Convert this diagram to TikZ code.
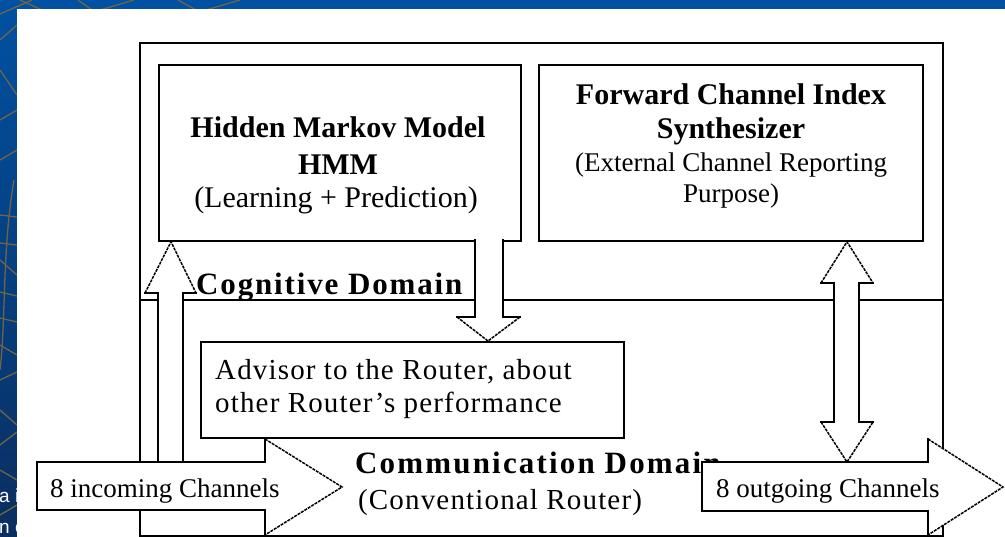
\documentclass[tikz,border=0pt]{standalone}
\usepackage{fontspec}
\setmainfont{Liberation Serif}
\newfontfamily\fragfont{Liberation Sans}
\newfontfamily\wideA[LetterSpace=6]{Liberation Serif}
\newfontfamily\wideB[LetterSpace=4]{Liberation Serif}
\newfontfamily\wideC[LetterSpace=7]{Liberation Serif}
\definecolor{slideblue}{RGB}{0,81,162}
\definecolor{slidedark}{RGB}{10,46,96}
\definecolor{netline}{RGB}{112,100,72}
\tikzset{
  box/.style={draw=black, line width=1.8pt, fill=white, inner sep=0pt, minimum width=#1},
  box/.default=10pt,
  frameline/.style={draw=black, line width=2pt},
  blockline/.style={draw=black, line width=1.6pt, line cap=rect},
  diagline/.style={draw=black, line width=1.5pt, dash pattern=on 3pt off 1pt},
  bigbold/.style={font=\bfseries\fontsize{30}{36}\selectfont, inner sep=0pt},
  body/.style={font=\fontsize{30}{36}\selectfont, inner sep=0pt},
  small/.style={font=\fontsize{27}{33}\selectfont, inner sep=0pt},
}
\begin{document}
\begin{tikzpicture}[x=1pt,y=-1pt]
\useasboundingbox (0,0) rectangle (1005,537);
% slide background
\shade[top color=slideblue, bottom color=slidedark] (0,0) rectangle (1005,537);
\fill[slideblue] (0,0) rectangle (1005,9);
\begin{scope}[netline, line width=1.3pt]
  \draw (0,14) -- (32,0);
  \draw (20,0) -- (42,10);
  \draw (78,0) -- (92,10);
  \draw (100,10) -- (134,0);
  \draw (178,0) -- (196,10);
  \draw (206,10) -- (240,0);
  \draw (0,40) -- (17,25);
  \draw (0,70) -- (17,95);
  \draw (0,120) -- (17,110);
  \draw (0,160) -- (17,150);
  \draw (0,215) -- (17,217);
  \draw (0,243) -- (17,245);
  \draw (0,260) -- (17,275);
  \draw (0,292) -- (17,296);
  \draw (0,318) -- (17,322);
  \draw (0,345) -- (17,355);
  \draw (0,380) -- (17,372);
  \draw (0,410) -- (17,425);
  \draw (0,445) -- (17,432);
  \draw (0,470) -- (17,480);
  \draw (0,515) -- (17,505);
  \draw (14,180) .. controls (2,250) and (6,320) .. (0,370);
\end{scope}
\node[anchor=base west, text=white, inner sep=0pt, font=\fragfont\fontsize{19}{22}\selectfont] (fragA) at (-1,503) {a i};
\node[anchor=base west, text=white, inner sep=0pt, font=\fragfont\fontsize{19}{22}\selectfont] (fragB) at (-1,533) {n c};
% white panel
\fill[white] (17,9) rectangle (1005,537);

% outer frame and domain divider
\node[frameline, fill=white, inner sep=0pt, minimum width=803pt, minimum height=493pt, anchor=north west] (frame) at (139,42) {};
\coordinate (divL) at (139,300);
\coordinate (divR) at (942,300);
\draw[frameline, line width=1.5pt] (divL) -- (divR);

% boxes
\node[box=362pt, minimum height=176pt, anchor=north west] (hmm) at (158,64) {};
\node[box=384pt, minimum height=176pt, anchor=north west] (fcis) at (538,64) {};
\node[box=423pt, minimum height=96pt, anchor=north west] (adv) at (200,341) {};

% box texts
\node[bigbold, anchor=base] (hmmA) at (338,138) {Hidden Markov Model};
\node[bigbold, anchor=base] (hmmB) at (338,175) {HMM};
\node[body, anchor=base] (hmmC) at (336,208) {(Learning + Prediction)};
\node[bigbold, anchor=base] (fcA) at (731,105) {Forward Channel Index};
\node[bigbold, anchor=base] (fcB) at (731,139) {Synthesizer};
\node[small, anchor=base] (fcC) at (731,172) {(External Channel Reporting};
\node[small, anchor=base] (fcD) at (731,203) {Purpose)};
\node[anchor=base west, inner sep=0pt, font=\wideB\fontsize{29}{34}\selectfont] (advA) at (215,380) {Advisor to the Router, about};
\node[anchor=base west, inner sep=0pt, font=\wideB\fontsize{29}{34}\selectfont] (advB) at (215,413) {other Router’s performance};

% domain labels
\node[anchor=base west, inner sep=0pt, font=\wideA\bfseries\fontsize{31}{36}\selectfont] (cog) at (196,295) {Cognitive Domain};
\node[anchor=base west, inner sep=0pt, font=\wideC\bfseries\fontsize{31}{36}\selectfont] (comm) at (355,474) {Communication Domain};
\node[anchor=base west, inner sep=0pt, font=\wideB\fontsize{29}{34}\selectfont] (conv) at (358,510) {(Conventional Router)};

% up arrow: incoming channels -> HMM
\coordinate (upTip) at (hmm.south west -| 171,0);
\fill[white] (158,466) -- (158,293) -- (145,293) -- (upTip) -- (196,293) -- (183,293) -- (183,466) -- cycle;
\draw[blockline] (158,466) -- (158,293) -- (145,293);
\draw[blockline] (196,293) -- (183,293) -- (183,466);
\draw[diagline] (145,293) -- (upTip) -- (196,293);

% down arrow: HMM -> advisor
\coordinate (dnTip) at (adv.north west -| 488,0);
\fill[white] (475,240) -- (475,317) -- (457,317) -- (dnTip) -- (520,317) -- (503,317) -- (503,240) -- cycle;
\draw[blockline] (475,240) -- (475,317) -- (457,317);
\draw[blockline] (520,317) -- (503,317) -- (503,240);
\draw[diagline] (457,317) -- (dnTip) -- (520,317);

% double arrow: synthesizer <-> outgoing channels
\coordinate (dbTop) at (fcis.south west -| 847,0);
\coordinate (dbBot) at (847,462);
\fill[white] (dbTop) -- (873,283) -- (859,283) -- (859,422) -- (873,422) -- (dbBot) -- (821,422) -- (834,422) -- (834,283) -- (821,283) -- cycle;
\draw[blockline] (873,283) -- (859,283) -- (859,422) -- (873,422);
\draw[blockline] (821,422) -- (834,422) -- (834,283) -- (821,283);
\draw[diagline] (821,283) -- (dbTop) -- (873,283);
\draw[diagline] (821,422) -- (dbBot) -- (873,422);

% incoming channels arrow
\fill[white] (37,462) -- (265,462) -- (265,439) -- (342,487) -- (265,535) -- (265,510) -- (37,510) -- cycle;
\draw[blockline] (265,439) -- (265,462) -- (37,462) -- (37,510) -- (265,510) -- (265,535);
\draw[diagline] (265,439) -- (342,487) -- (265,535);
\node[small, anchor=base west] (inc) at (50,497) {8 incoming Channels};

% outgoing channels arrow
\fill[white] (702,462) -- (928,462) -- (928,439) -- (1003,487) -- (928,535) -- (928,511) -- (702,511) -- cycle;
\draw[blockline] (928,439) -- (928,462) -- (702,462) -- (702,511) -- (928,511) -- (928,535);
\draw[diagline] (928,439) -- (1003,487) -- (928,535);
\node[small, anchor=base west] (out) at (716,497) {8 outgoing Channels};
\end{tikzpicture}
\end{document}
